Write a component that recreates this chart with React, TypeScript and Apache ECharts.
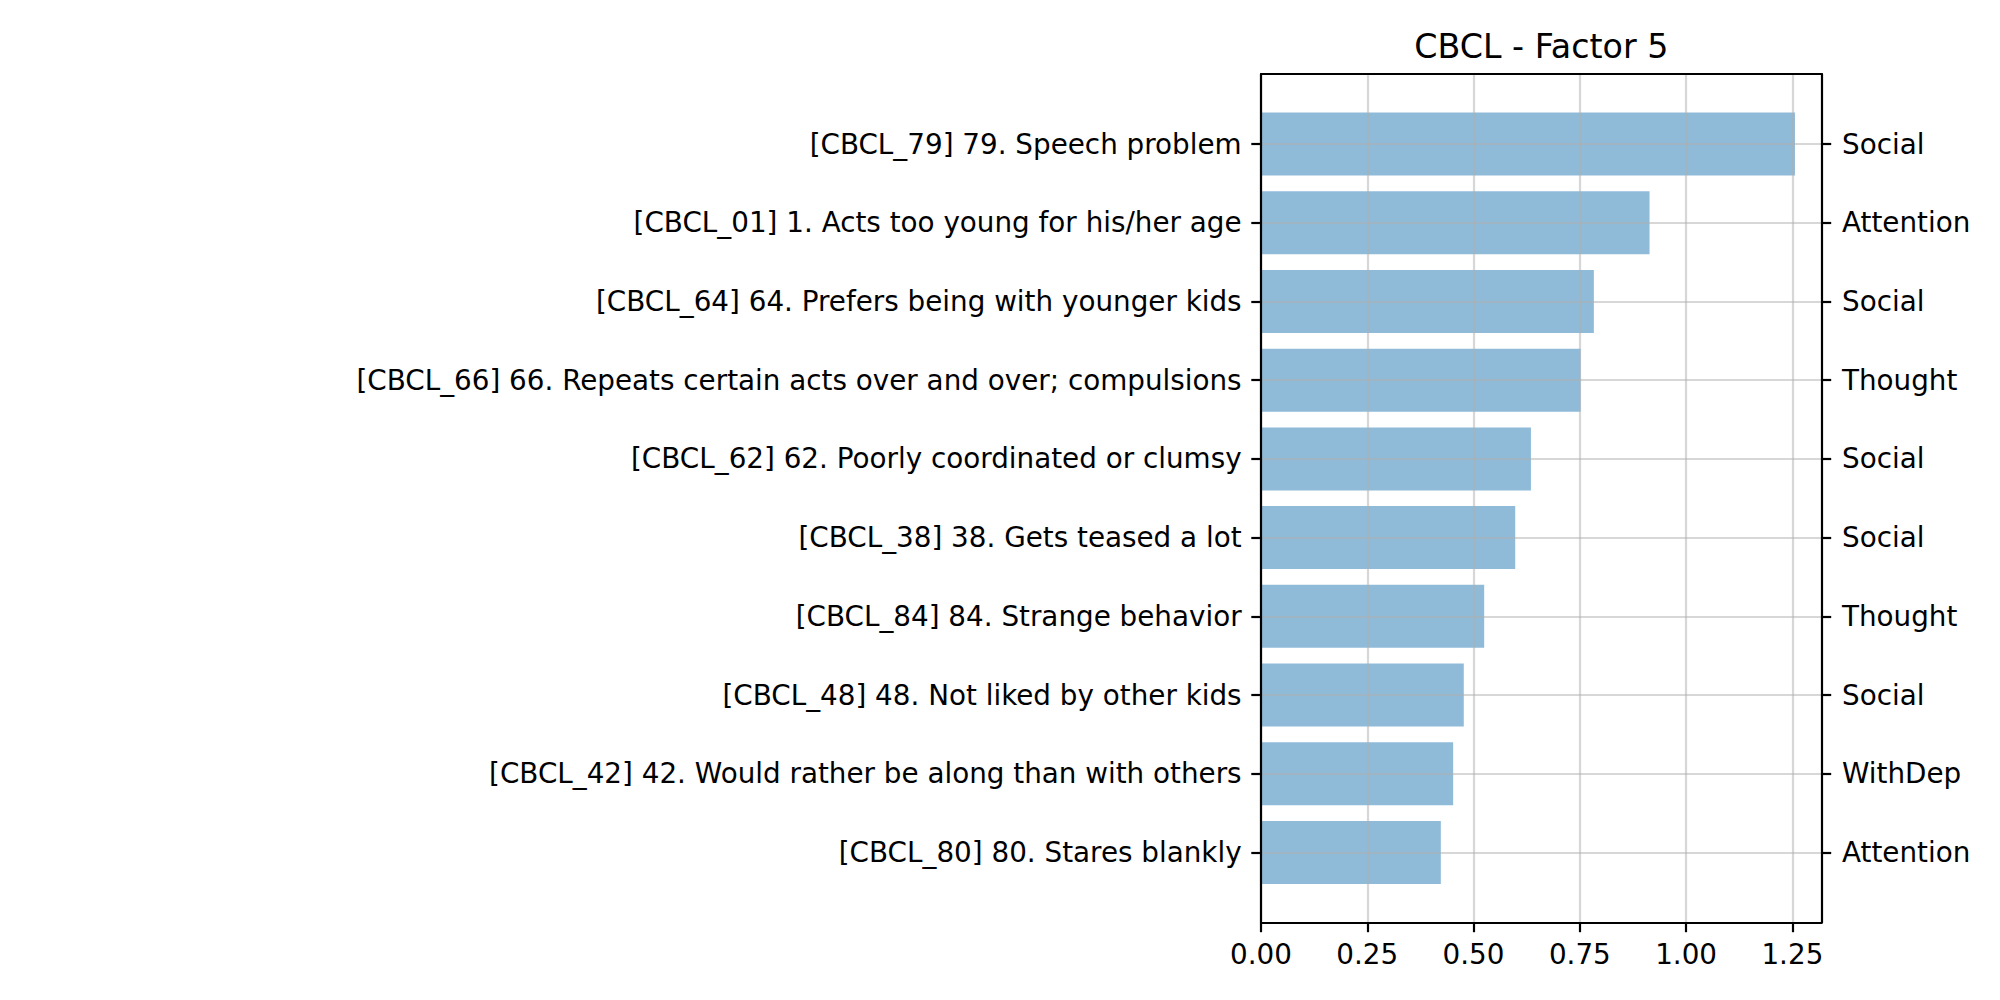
import React, { useEffect, useRef } from "react";
import * as echarts from "echarts";

const categories = [
  "[CBCL_79] 79. Speech problem",
  "[CBCL_01] 1. Acts too young for his/her age",
  "[CBCL_64] 64. Prefers being with younger kids",
  "[CBCL_66] 66. Repeats certain acts over and over; compulsions",
  "[CBCL_62] 62. Poorly coordinated or clumsy",
  "[CBCL_38] 38. Gets teased a lot",
  "[CBCL_84] 84. Strange behavior",
  "[CBCL_48] 48. Not liked by other kids",
  "[CBCL_42] 42. Would rather be along than with others",
  "[CBCL_80] 80. Stares blankly",
];
const groups = [
  "Social",
  "Attention",
  "Social",
  "Thought",
  "Social",
  "Social",
  "Thought",
  "Social",
  "WithDep",
  "Attention",
];
const loadings = [1.256, 0.914, 0.783, 0.752, 0.635, 0.598, 0.525, 0.477, 0.452, 0.423];
const xTickMax = 1.25;
const xTickStep = 0.25;
const xMax = 1.3185;
const titleText = "CBCL - Factor 5";

const FONT = "DejaVu Sans";
const LW = 2.2;
const TICK_LEN = 9.7;
const FS = 27.8;
const GRID_COLOR = "rgba(176,176,176,0.5)";

export default function App() {
  const ref = useRef<HTMLDivElement>(null);
  useEffect(() => {
    document.body.style.margin = "0";
    const chart = echarts.init(ref.current!, null, { renderer: "svg" });
    const frame = { left: 1261, top: 74, width: 560.5, height: 848.5 };
    const tickGrid = {
      left: frame.left,
      top: frame.top,
      width: (frame.width * xTickMax) / xMax,
      height: frame.height,
    };
    const inner = { left: 1261, top: 144, width: 560.5, height: 708.5 };
    const spine = { show: true, onZero: false, lineStyle: { color: "#000", width: LW } };
    const hidden = {
      axisTick: { show: false },
      axisLabel: { show: false },
      splitLine: { show: false },
    };
    chart.setOption({
      animation: false,
      backgroundColor: "#fff",
      textStyle: { fontFamily: FONT },
      grid: [
        { ...frame, containLabel: false },
        { ...tickGrid, containLabel: false },
        { ...inner, containLabel: false },
      ],
      graphic: [
        {
          type: "text",
          x: frame.left + frame.width / 2,
          y: 46.5,
          z: 10,
          style: {
            text: titleText,
            fontFamily: FONT,
            fontSize: 33.3,
            fill: "#000",
            align: "center",
            verticalAlign: "middle",
          },
        },
      ],
      xAxis: [
        {
          gridIndex: 0,
          type: "value",
          min: 0,
          max: xMax,
          position: "bottom",
          z: 5,
          axisLine: spine,
          ...hidden,
        },
        {
          gridIndex: 0,
          type: "value",
          min: 0,
          max: xMax,
          position: "top",
          z: 5,
          axisLine: spine,
          ...hidden,
        },
        {
          gridIndex: 1,
          type: "value",
          min: 0,
          max: xTickMax,
          interval: xTickStep,
          position: "bottom",
          z: 4,
          axisLine: { show: false, onZero: false },
          axisTick: {
            show: true,
            length: TICK_LEN,
            lineStyle: { color: "#000", width: LW },
          },
          axisLabel: {
            show: true,
            formatter: (v: number) => v.toFixed(2),
            fontFamily: FONT,
            fontSize: FS,
            color: "#000",
            margin: 18,
          },
          splitLine: { show: true, lineStyle: { color: GRID_COLOR, width: LW } },
        },
        {
          gridIndex: 2,
          type: "value",
          min: 0,
          max: xMax,
          show: false,
        },
      ],
      yAxis: [
        {
          gridIndex: 0,
          type: "value",
          min: 0,
          max: 1,
          position: "left",
          z: 5,
          axisLine: spine,
          ...hidden,
        },
        {
          gridIndex: 0,
          type: "value",
          min: 0,
          max: 1,
          position: "right",
          z: 5,
          axisLine: spine,
          ...hidden,
        },
        {
          gridIndex: 1,
          type: "value",
          min: 0,
          max: 1,
          show: false,
        },
        {
          gridIndex: 2,
          type: "category",
          data: categories,
          inverse: true,
          boundaryGap: false,
          position: "left",
          z: 3,
          axisLine: { show: false },
          axisTick: {
            show: true,
            interval: 0,
            length: TICK_LEN,
            lineStyle: { color: "#000", width: LW },
          },
          axisLabel: {
            show: true,
            interval: 0,
            fontFamily: FONT,
            fontSize: FS,
            color: "#000",
            margin: 19.4,
            padding: [5, 0, 0, 0],
          },
          splitLine: { show: true, interval: 0, lineStyle: { color: GRID_COLOR, width: LW } },
        },
        {
          gridIndex: 2,
          type: "category",
          data: categories,
          inverse: true,
          boundaryGap: false,
          position: "right",
          z: 3,
          axisLine: { show: false },
          axisTick: {
            show: true,
            interval: 0,
            length: TICK_LEN,
            lineStyle: { color: "#000", width: LW },
          },
          axisLabel: {
            show: true,
            interval: 0,
            formatter: (_v: string, i: number) => groups[i],
            fontFamily: FONT,
            fontSize: FS,
            color: "#000",
            margin: 20.5,
            padding: [5, 0, 0, 0],
          },
          splitLine: { show: false },
        },
      ],
      series: [
        {
          type: "bar",
          xAxisIndex: 3,
          yAxisIndex: 3,
          data: loadings,
          barWidth: "80%",
          clip: false,
          z: 2,
          itemStyle: { color: "rgba(31,119,180,0.5)" },
        },
      ],
    });
    return () => chart.dispose();
  }, []);
  return (
    <div
      ref={ref}
      style={{ position: "fixed", left: 0, top: 0, width: 2000, height: 1000 }}
    />
  );
}
